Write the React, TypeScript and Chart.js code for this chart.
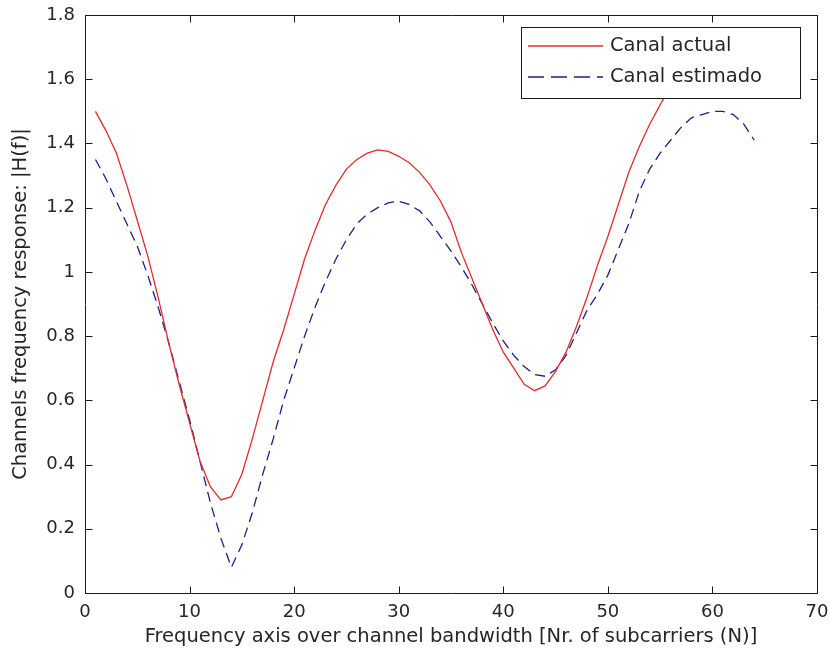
import React, { useEffect, useRef } from "react";
import { Chart, registerables } from "chart.js";

Chart.register(...registerables);

const subcarriers = [
  1, 2, 3, 4, 5, 6, 7, 8, 9, 10, 11, 12, 13, 14, 15, 16, 17, 18, 19, 20, 21, 22,
  23, 24, 25, 26, 27, 28, 29, 30, 31, 32, 33, 34, 35, 36, 37, 38, 39, 40, 41, 42,
  43, 44, 45, 46, 47, 48, 49, 50, 51, 52, 53, 54, 55, 56, 57, 58, 59, 60, 61, 62,
  63, 64,
];

const canalActual = [
  1.5, 1.44, 1.37, 1.27, 1.16, 1.05, 0.92, 0.78, 0.65, 0.53, 0.41, 0.33, 0.29,
  0.3, 0.37, 0.48, 0.6, 0.72, 0.82, 0.93, 1.04, 1.13, 1.21, 1.27, 1.32, 1.35,
  1.37, 1.38, 1.375, 1.36, 1.34, 1.31, 1.27, 1.22, 1.155, 1.06, 0.98, 0.9,
  0.82, 0.75, 0.7, 0.65, 0.63, 0.645, 0.69, 0.75, 0.83, 0.92, 1.02, 1.11, 1.21,
  1.31, 1.39, 1.46, 1.52, 1.58, 1.63, 1.67, 1.7, 1.71, 1.71, 1.69, 1.66, 1.62,
];

const canalEstimado = [
  1.35, 1.29, 1.22, 1.15, 1.08, 0.99, 0.89, 0.78, 0.66, 0.54, 0.41, 0.28, 0.17,
  0.08, 0.15, 0.25, 0.37, 0.48, 0.6, 0.7, 0.8, 0.89, 0.97, 1.04, 1.1, 1.15, 1.18,
  1.2, 1.215, 1.22, 1.21, 1.19, 1.155, 1.11, 1.065, 1.015, 0.96, 0.9, 0.84,
  0.785, 0.74, 0.705, 0.68, 0.675, 0.695, 0.74, 0.81, 0.88, 0.93, 0.99, 1.07,
  1.15, 1.25, 1.32, 1.37, 1.41, 1.45, 1.48, 1.49, 1.5, 1.5, 1.49, 1.46, 1.41,
];

const xTickLabels = ["0", "10", "20", "30", "40", "50", "60", "70"];
const yTickLabels = ["0", "0.2", "0.4", "0.6", "0.8", "1", "1.2", "1.4", "1.6", "1.8"];

const seriesNames = ["Canal actual", "Canal estimado"];
const xTitle = "Frequency axis over channel bandwidth [Nr. of subcarriers (N)]";
const yTitle = "Channels frequency response: |H(f)|";

const RED = "#e42a2e";
const BLUE = "#1f1f86";
const TEXT = "#262626";
const FONT = "'DejaVu Sans', 'Liberation Sans', sans-serif";

const framePlugin = {
  id: "matlabFrame",
  afterDatasetsDraw(chart: any) {
    const { ctx, chartArea } = chart;
    const { left, right, top, bottom } = chartArea;
    const xs = chart.scales.x;
    const ys = chart.scales.y;
    const tl = 7;
    ctx.save();
    ctx.strokeStyle = "#1a1a1a";
    ctx.lineWidth = 1;
    ctx.beginPath();
    const L = Math.round(left) + 0.5;
    const R = Math.round(right) + 0.5;
    const T = Math.round(top) + 0.5;
    const B = Math.round(bottom) + 0.5;
    ctx.rect(L, T, R - L, B - T);
    xs.ticks.forEach((t: any) => {
      const px = Math.round(xs.getPixelForValue(t.value)) + 0.5;
      ctx.moveTo(px, B);
      ctx.lineTo(px, B - tl);
      ctx.moveTo(px, T);
      ctx.lineTo(px, T + tl);
    });
    ys.ticks.forEach((t: any) => {
      const py = Math.round(ys.getPixelForValue(t.value)) + 0.5;
      ctx.moveTo(L, py);
      ctx.lineTo(L + tl, py);
      ctx.moveTo(R, py);
      ctx.lineTo(R - tl, py);
    });
    ctx.stroke();

    // legend box (MATLAB style, opaque, top-right)
    const lx = 521.5;
    const ly = 27.5;
    const lw = 279;
    const lh = 71;
    ctx.fillStyle = "#ffffff";
    ctx.fillRect(lx, ly, lw, lh);
    ctx.strokeStyle = "#1a1a1a";
    ctx.strokeRect(lx, ly, lw, lh);
    const rows = [
      { y: 46, color: RED, dash: [] as number[], name: seriesNames[0] },
      { y: 77, color: BLUE, dash: [16, 7], name: seriesNames[1] },
    ];
    rows.forEach((r) => {
      ctx.beginPath();
      ctx.setLineDash(r.dash);
      ctx.strokeStyle = r.color;
      ctx.lineWidth = 1.3;
      ctx.moveTo(528, r.y);
      ctx.lineTo(603, r.y);
      ctx.stroke();
      ctx.setLineDash([]);
      ctx.fillStyle = TEXT;
      ctx.font = `19.5px ${FONT}`;
      ctx.textBaseline = "middle";
      ctx.textAlign = "left";
      ctx.fillText(r.name, 610, r.y);
    });
    ctx.restore();
  },
};

const zeroPadding = (s: any) => {
  s.paddingTop = 0;
  s.paddingBottom = 0;
  s.paddingLeft = 0;
  s.paddingRight = 0;
};

export default function App() {
  const ref = useRef<HTMLCanvasElement | null>(null);

  useEffect(() => {
    document.body.style.margin = "0";
    const canvas = ref.current;
    if (!canvas) return;
    const chart = new Chart(canvas, {
      type: "line",
      data: {
        datasets: [
          {
            label: seriesNames[0],
            data: subcarriers.map((x, i) => ({ x, y: canalActual[i] })),
            borderColor: RED,
            borderWidth: 1.3,
            pointRadius: 0,
            tension: 0,
            fill: false,
          },
          {
            label: seriesNames[1],
            data: subcarriers.map((x, i) => ({ x, y: canalEstimado[i] })),
            borderColor: BLUE,
            borderWidth: 1.3,
            borderDash: [10, 6],
            pointRadius: 0,
            tension: 0,
            fill: false,
          },
        ],
      },
      options: {
        animation: false,
        responsive: false,
        devicePixelRatio: 1,
        layout: { autoPadding: false, padding: { top: 15, right: 13, left: 0, bottom: 0 } },
        plugins: {
          legend: { display: false },
          tooltip: { enabled: false },
        },
        scales: {
          x: {
            type: "linear",
            min: 0,
            max: 70,
            grid: { display: false, drawTicks: false },
            border: { display: false },
            ticks: {
              stepSize: 10,
              padding: 9,
              color: TEXT,
              font: { family: FONT, size: 18 },
              maxRotation: 0,
              callback: (v: any) => xTickLabels[Math.round(Number(v) / 10)] ?? "",
            },
            title: {
              display: true,
              text: xTitle,
              color: TEXT,
              font: { family: FONT, size: 19.5 },
              padding: { top: 2, bottom: 8 },
            },
            afterFit: (s: any) => {
              s.height = 64;
              zeroPadding(s);
            },
          },
          y: {
            type: "linear",
            min: 0,
            max: 1.8,
            grid: { display: false, drawTicks: false },
            border: { display: false },
            ticks: {
              stepSize: 0.2,
              padding: 10,
              color: TEXT,
              font: { family: FONT, size: 18 },
              callback: (v: any) => yTickLabels[Math.round(Number(v) * 5)] ?? "",
            },
            title: {
              display: true,
              text: yTitle,
              color: TEXT,
              font: { family: FONT, size: 19.5 },
              padding: { top: 9, bottom: 0 },
            },
            afterFit: (s: any) => {
              s.width = 85;
              zeroPadding(s);
            },
          },
        },
      },
      plugins: [framePlugin],
    });
    return () => chart.destroy();
  }, []);

  return (
    <div style={{ width: 830, height: 657, background: "#fff" }}>
      <canvas ref={ref} width={830} height={657} />
    </div>
  );
}
